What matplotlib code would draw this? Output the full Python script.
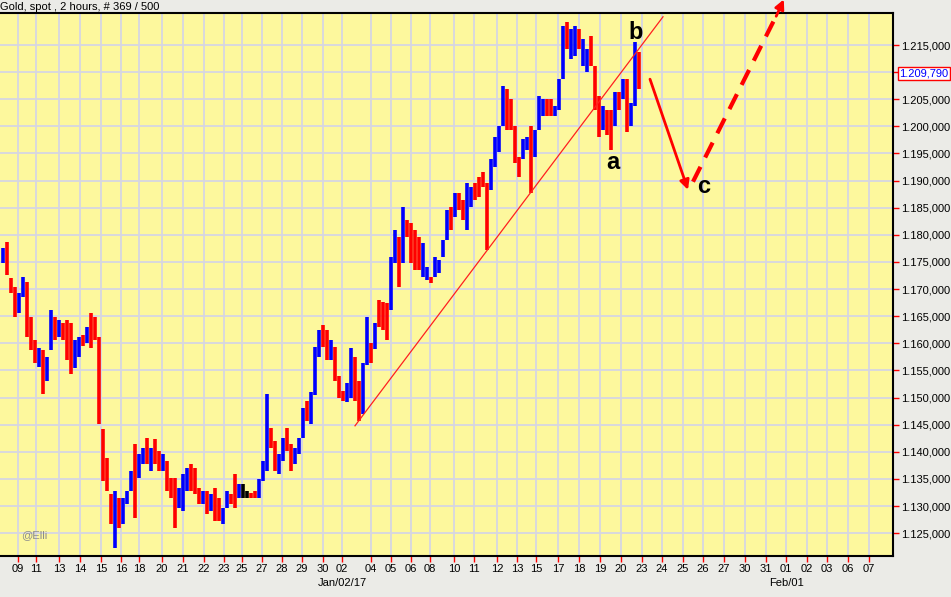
import numpy as np
import matplotlib
matplotlib.use("Agg")
import matplotlib.pyplot as plt
from matplotlib import transforms

plt.rcParams['font.family'] = ['Liberation Sans', 'DejaVu Sans']

title = "Gold, spot , 2 hours, # 369 / 500"
last_price = 1209.79

# one entry per drawn bar (oldest first)
highs = [
    1177.6, 1178.7, 1172.0, 1170.4, 1169.3, 1172.2, 1171.3, 1164.8, 1160.6, 1159.1,
    1158.7, 1157.4, 1166.1, 1164.8, 1164.3, 1163.7, 1164.3, 1163.7, 1160.6, 1161.1,
    1161.5, 1163.0, 1165.6, 1164.8, 1161.1, 1144.3, 1138.9, 1132.2, 1132.8, 1131.5,
    1131.5, 1132.8, 1136.5, 1141.5, 1139.6, 1140.7, 1142.6, 1140.7, 1142.4, 1140.2,
    1139.6, 1138.3, 1135.2, 1135.2, 1133.3, 1135.9, 1137.0, 1137.8, 1137.0, 1133.3,
    1132.8, 1132.8, 1132.2, 1133.3, 1131.5, 1129.6, 1132.8, 1132.2, 1135.9, 1134.1,
    1134.1, 1132.8, 1132.4, 1132.8, 1135.0, 1138.3, 1150.7, 1144.4, 1142.0, 1139.6,
    1142.6, 1144.4, 1141.5, 1140.7, 1142.6, 1148.1, 1149.4, 1151.0, 1159.3, 1162.4,
    1163.3, 1162.4, 1160.6, 1159.3, 1154.0, 1151.3, 1152.6, 1159.1, 1157.4, 1153.1,
    1156.3, 1164.8, 1160.0, 1163.7, 1168.0, 1167.6, 1167.4, 1176.0, 1180.9, 1179.6,
    1185.2, 1182.8, 1182.2, 1180.9, 1179.6, 1178.5, 1174.1, 1172.2, 1175.9, 1175.4,
    1179.1, 1184.6, 1185.2, 1187.8, 1187.8, 1186.5, 1189.6, 1188.9, 1189.6, 1190.7,
    1191.5, 1189.6, 1193.9, 1198.1, 1200.0, 1207.4, 1206.9, 1205.0, 1200.0, 1194.4,
    1197.6, 1198.1, 1200.0, 1199.4, 1205.6, 1205.0, 1205.0, 1205.0, 1203.7, 1208.7,
    1218.5, 1219.3, 1218.0, 1218.5, 1218.0, 1216.1, 1214.3, 1216.7, 1211.1, 1205.6,
    1203.7, 1203.1, 1203.1, 1206.3, 1206.3, 1208.7, 1208.7, 1204.4, 1215.6, 1213.7,
]
lows = [
    1174.8, 1172.6, 1169.3, 1164.8, 1165.6, 1168.5, 1161.1, 1158.7, 1156.3, 1155.6,
    1150.7, 1153.1, 1158.7, 1160.6, 1161.1, 1160.6, 1156.9, 1154.4, 1155.4, 1157.4,
    1159.6, 1160.0, 1159.1, 1160.6, 1145.2, 1134.6, 1132.8, 1126.7, 1122.2, 1126.0,
    1126.7, 1130.4, 1132.8, 1127.8, 1135.2, 1137.8, 1137.8, 1136.5, 1137.8, 1136.5,
    1136.5, 1132.8, 1131.5, 1125.9, 1129.6, 1129.1, 1132.8, 1132.8, 1132.2, 1130.4,
    1130.4, 1128.5, 1129.1, 1127.2, 1127.2, 1126.7, 1129.6, 1130.4, 1129.6, 1131.5,
    1131.5, 1131.5, 1131.5, 1131.5, 1131.5, 1134.6, 1136.5, 1140.7, 1136.5, 1135.9,
    1138.3, 1140.2, 1136.5, 1137.8, 1139.6, 1142.6, 1145.7, 1145.2, 1150.5, 1157.4,
    1159.3, 1156.9, 1156.9, 1153.0, 1150.0, 1149.4, 1149.1, 1150.0, 1149.4, 1145.7,
    1147.0, 1156.0, 1156.3, 1159.0, 1163.0, 1162.4, 1160.6, 1166.1, 1174.8, 1170.4,
    1174.8, 1179.6, 1174.8, 1173.5, 1173.5, 1172.2, 1171.7, 1171.1, 1172.2, 1173.0,
    1175.9, 1179.0, 1180.9, 1183.3, 1184.6, 1182.8, 1180.9, 1185.2, 1186.5, 1187.0,
    1188.9, 1177.2, 1188.3, 1192.6, 1195.2, 1200.0, 1199.4, 1199.4, 1193.3, 1190.7,
    1193.9, 1195.7, 1187.8, 1194.4, 1199.4, 1201.9, 1201.9, 1201.9, 1201.9, 1203.1,
    1208.7, 1214.3, 1212.4, 1213.0, 1214.3, 1211.1, 1210.0, 1211.1, 1203.1, 1198.1,
    1199.4, 1198.5, 1195.7, 1200.0, 1203.1, 1205.0, 1198.9, 1200.0, 1203.7, 1206.9,
]
# u = up bar (blue), d = down bar (red), n = unchanged (black); 10 bars per row
moves = list("".join([
    "uddduudddu", "duududdduu", "duddddddud", "uuuduududd",
    "uddduuuddd", "ududduuddu", "nndduuuddu", "udduuuduuu",
    "dduddduudd", "uududdduud", "udddduuduu", "uududduudd",
    "dduuuudddd", "uuduuudduu", "uduuduuddd", "uddududuud",
]))

price_ticks = list(range(1125, 1216, 5))
date_labels = ["09", "11", "13", "14", "15", "16", "18", "20", "21", "22", "23",
               "25", "27", "28", "29", "30", "02", "04", "05", "06", "08", "10",
               "11", "12", "13", "15", "17", "18", "19", "20", "23", "24", "25",
               "26", "27", "30", "31", "01", "02", "03", "06", "07"]
date_slots = [3.75, 8.25, 14, 19.25, 24.5, 29.5, 34, 39.75, 45, 50.25, 55.25,
              59.75, 64.75, 69.75, 74.75, 80, 84.75, 92, 97, 102, 106.75, 112.75,
              117.75, 123.5, 128.5, 133.25, 138.75, 144, 149.25, 154.5, 159.75,
              164.75, 170, 175, 180.25, 185.5, 190.75, 195.75, 201, 206, 211.25,
              216.5]
month_labels = {"Jan/02/17": 84.75, "Feb/01": 195.75}


def fmt_price(v):
    s = f"{v:,.3f}"
    return s.replace(",", "#").replace(".", ",").replace("#", ".")


n = min(len(highs), len(lows), len(moves))
x = np.arange(n)
palette = {"u": "#0000ff", "d": "#ff0000", "n": "#000000"}
cols = [palette[m] for m in moves[:n]]

fig = plt.figure(figsize=(9.51, 5.97), dpi=100, facecolor="#ebebe7")
ax = fig.add_axes([0.0, 1 - 556 / 597, 893 / 951, 543 / 597])
ax.set_facecolor("#fdf89d")
ax.set_xlim(-0.75, 222.5)
ax.set_ylim(1120.8, 1220.9)

ax.vlines(x, lows[:n], highs[:n], colors=cols, lw=2.6, zorder=3)

# axes cosmetics
ax.yaxis.tick_right()
ax.set_yticks(price_ticks)
# the 1.210 label sits under the current price box, as in the original
ax.set_yticklabels(["" if abs(v - last_price) < 2.5 else fmt_price(v)
                    for v in price_ticks])
ax.set_xticks(date_slots)
ax.set_xticklabels(date_labels)
ax.tick_params(axis="both", colors="#ff0000", labelcolor="black",
               length=4, width=1, labelsize=8, pad=2)
ax.grid(True, color="#d6d6e2", lw=1.3, zorder=1)
ax.set_axisbelow(True)
for side in ["top", "right", "bottom"]:
    ax.spines[side].set_color("black")
    ax.spines[side].set_linewidth(1.5)
ax.spines["left"].set_visible(False)

for lab, xs in month_labels.items():
    ax.text(xs, -0.041, lab, transform=transforms.blended_transform_factory(
        ax.transData, ax.transAxes), ha="center", va="top", fontsize=8)

fig.text(0.0, 1 - 7 / 597, title, ha="left", va="center", fontsize=8)

# current price box
trans = transforms.blended_transform_factory(ax.transAxes, ax.transData)
ax.text(1.007, last_price, fmt_price(last_price), transform=trans, color="#0000ff",
        fontsize=8, va="center", ha="left",
        bbox=dict(boxstyle="square,pad=0.15", fc="white", ec="#ff0000", lw=1))

ax.text(4.5, 1124.6, "@Elli", color="#8c8c8c", fontsize=8, va="center")

# trend line and wave notes
ax.plot([88, 165], [1144.8, 1220.2], color="#ff2020", lw=0.9, zorder=4)
ax.text(158.25, 1217.3, "b", fontsize=17, fontweight="bold", ha="center", va="center")
ax.text(152.5, 1193.3, "a", fontsize=17, fontweight="bold", ha="center", va="center")
ax.text(175.2, 1188.9, "c", fontsize=17, fontweight="bold", ha="center", va="center")

ax.annotate("", xy=(171.25, 1188.3), xytext=(161.75, 1208.7),
            arrowprops=dict(arrowstyle="-|>", color="#ff0000", lw=2,
                            mutation_scale=14, shrinkA=0, shrinkB=0))
ax.plot([172.5, 193.6], [1189.8, 1220.8], color="#ff0000", lw=3,
        dashes=(4, 2.5), clip_on=False, zorder=5)
ax.annotate("", xy=(195.2, 1223.4), xytext=(193.3, 1220.3),
            arrowprops=dict(arrowstyle="-|>", color="#ff0000", lw=2,
                            mutation_scale=14, shrinkA=0, shrinkB=0),
            annotation_clip=False)

fig.savefig("out.png", dpi=100, facecolor=fig.get_facecolor())
